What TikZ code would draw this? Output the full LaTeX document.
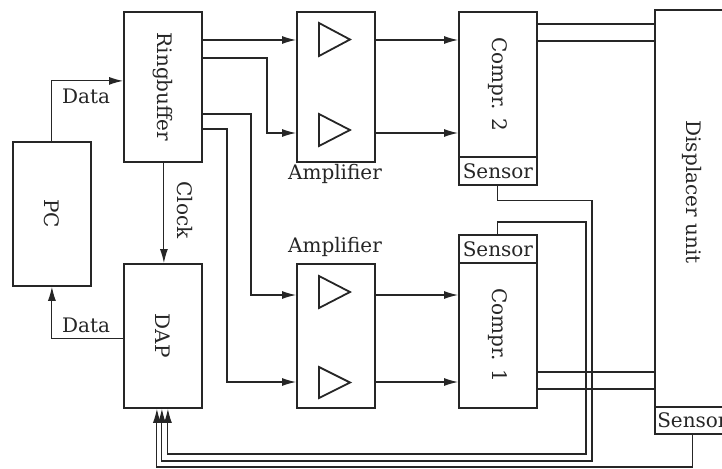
\documentclass[tikz,border=0pt]{standalone}
\usepackage{fontspec}
\setmainfont{DejaVu Serif}
\usetikzlibrary{arrows.meta}
\begin{document}
\begin{tikzpicture}[x=1pt,y=-1pt,
  every node/.style={font=\fontsize{20}{23}\selectfont, inner sep=0pt, text=black!85},
  blk/.style={draw=black!85, line width=1.8pt, minimum width=78pt, anchor=north west},
  wire/.style={draw=black!85, line width=1.1pt},
  arr/.style={wire, -{Latex[length=14pt,width=8pt]}},
  amp/.style={draw=black!85, line width=1.8pt, line join=miter}]
\clip (0,0) rectangle (722,468);
% levels and bends
\coordinate (h24) at (0,24);
\coordinate (h40) at (0,40);
\coordinate (h41) at (0,41);
\coordinate (h58) at (0,58);
\coordinate (h114) at (0,114);
\coordinate (h129) at (0,129);
\coordinate (h133) at (0,133);
\coordinate (h295) at (0,295);
\coordinate (h372) at (0,372);
\coordinate (h382) at (0,382);
\coordinate (h389) at (0,389);
\coordinate (h454) at (0,454);
\coordinate (h461) at (0,461);
\coordinate (h467) at (0,467);
\coordinate (v227) at (227,0);
\coordinate (v251) at (251,0);
\coordinate (v267) at (267,0);
\coordinate (v586) at (586,0);
\coordinate (v592) at (592,0);
% blocks
\node[blk, minimum height=144pt] (PC) at (12,141) {\rotatebox{-90}{PC}};
\node[blk, minimum height=150pt] (Ring) at (123,11) {\rotatebox{-90}{Ringbuffer}};
\node[blk, minimum height=144pt] (DAP) at (123,263) {\rotatebox{-90}{DAP}};
\node[blk, minimum height=150pt] (AmpT) at (296,11) {};
\node[blk, minimum height=144pt] (AmpB) at (296,263) {};
\node[blk, minimum height=145pt] (C2) at (458,11) {\rotatebox{-90}{Compr. 2}};
\node[blk, minimum height=28pt] (S2) at (458,156) {Sensor};
\node[blk, minimum height=28pt] (S1) at (458,234) {Sensor};
\node[blk, minimum height=145pt] (C1) at (458,262) {\rotatebox{-90}{Compr. 1}};
\node[blk, minimum width=75pt, minimum height=397pt] (Disp) at (654,9) {};
\node[blk, minimum width=75pt, minimum height=27pt] (DS) at (654,406) {Sensor};
\node (DispT) at (692,192) {\rotatebox{-90}{Displacer unit}};
% amplifier symbols
\draw[amp] (319,23) -- (350,39.5) -- (319,56) -- cycle;
\draw[amp] (319,114) -- (350,130) -- (319,146) -- cycle;
\draw[amp] (319,276) -- (350,292) -- (319,308) -- cycle;
\draw[amp] (319,367) -- (350,382.5) -- (319,398) -- cycle;
% labels
\node (ampTl) at (335,174) {Amplifier};
\node (ampBl) at (335,247) {Amplifier};
\node (dataU) at (86,96) {Data};
\node (dataL) at (86,325) {Data};
\node (clk) at (185,210) {\rotatebox{-90}{Clock}};
% connectors
\draw[arr] (PC.north) |- ([yshift=6pt]Ring.west);
\draw[arr] ([yshift=-3pt]DAP.west) -| (PC.south);
\draw[arr] ([xshift=1pt]Ring.south) -- ([xshift=1pt]DAP.north);
\draw[arr] (Ring.east |- h40) -- (AmpT.west |- h40);
\draw[arr] (Ring.east |- h58) -| (v267 |- h133) -- (AmpT.west |- h133);
\draw[arr] (Ring.east |- h114) -| (v251 |- h295) -- (AmpB.west |- h295);
\draw[arr] (Ring.east |- h129) -| (v227 |- h382) -- (AmpB.west |- h382);
\draw[arr] (AmpT.east |- h40) -- (C2.west |- h40);
\draw[arr] (AmpT.east |- h133) -- (C2.west |- h133);
\draw[arr] (AmpB.east |- h295) -- (C1.west |- h295);
\draw[arr] (AmpB.east |- h382) -- (C1.west |- h382);
\draw[wire] (C2.east |- h24) -- (Disp.west |- h24);
\draw[wire] (C2.east |- h41) -- (Disp.west |- h41);
\draw[wire] (C1.east |- h372) -- (Disp.west |- h372);
\draw[wire] (C1.east |- h389) -- (Disp.west |- h389);
\draw[arr] (S2.south) -- ++(0,15) -| (v592 |- h461) -| ([xshift=-1pt]DAP.south);
\draw[arr] (S1.north) -- ++(0,-12) -| (v586 |- h454) -| ([xshift=5pt]DAP.south);
\draw[arr] (DS.south) -- (DS.south |- h467) -| ([xshift=-6pt]DAP.south);
\end{tikzpicture}
\end{document}
